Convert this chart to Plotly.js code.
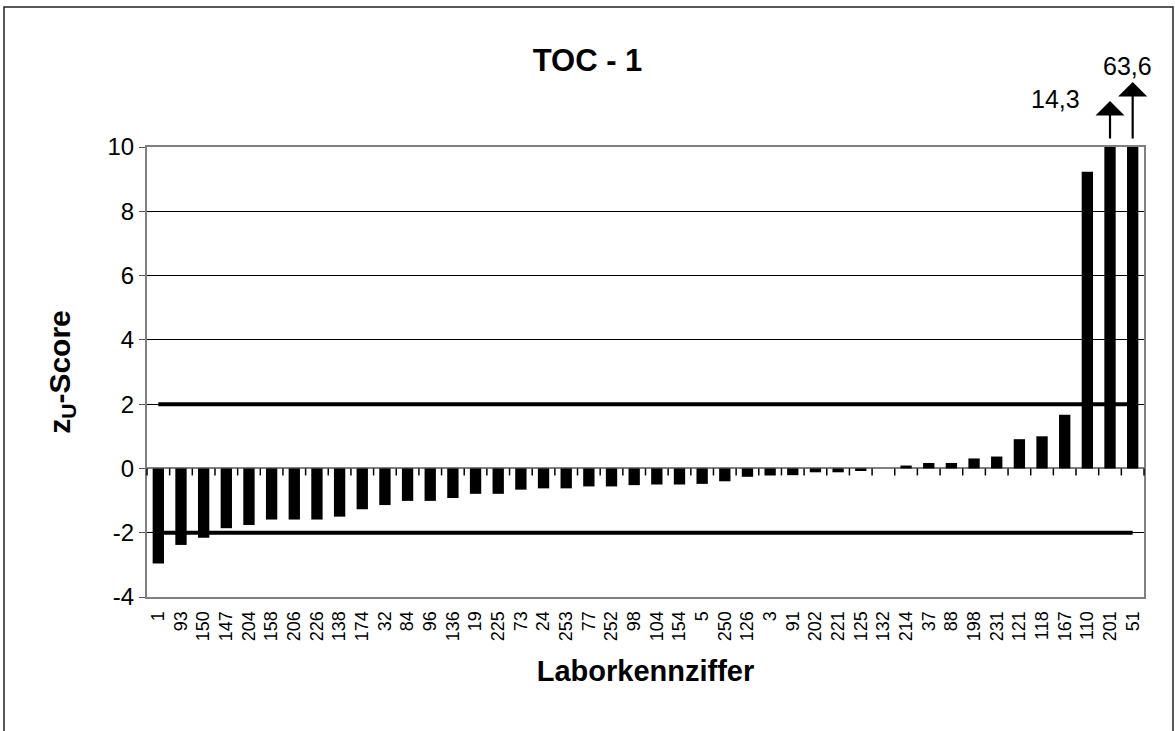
<!DOCTYPE html>
<html>
<head>
<meta charset="utf-8">
<script src="https://cdn.plot.ly/plotly-3.0.1.min.js"></script>
<style>
  html, body { margin: 0; padding: 0; background: #fff; }
  #chart { width: 1175px; height: 731px; }
</style>
</head>
<body>
<div id="chart"></div>
<script>
// Laboratory codes (x categories)
const labCodes = ['1','93','150','147','204','158','206','226','138','174','32','84','96','136','19','225','73','24','253','77','252','98','104','154','5','250','126','3','91','202','221','125','132','214','37','88','198','231','121','118','167','110','201','51'];
// zU-scores (last two are off-scale: 14,3 and 63,6)
const zScores = [-2.96,-2.38,-2.16,-1.86,-1.76,-1.59,-1.59,-1.59,-1.50,-1.27,-1.14,-1.01,-1.01,-0.92,-0.79,-0.79,-0.66,-0.62,-0.62,-0.56,-0.56,-0.52,-0.50,-0.50,-0.48,-0.40,-0.26,-0.22,-0.21,-0.12,-0.12,-0.08,0,0.09,0.17,0.17,0.31,0.37,0.91,1.00,1.67,9.23,14.3,63.6];
// Tolerance limits
const upperLimit = 2;
const lowerLimit = -2;
// Y tick values / labels
const yTickVals = [-4,-2,0,2,4,6,8,10];
const yTickText = ['-4','-2','0','2','4','6','8','10'];
// Off-scale labels
const offScaleLabs = ['201','51'];
const offScaleText = ['14,3','63,6'];

const FONT = 'Liberation Sans, Arial, sans-serif';
const Y_MIN = -4, Y_MAX = 10;

const traces = [
  {
    type: 'bar', x: labCodes, y: zScores,
    marker: { color: '#000000', line: { width: 0 } },
    hoverinfo: 'x+y', showlegend: false
  },
  {
    type: 'scatter', mode: 'lines', x: labCodes, y: labCodes.map(() => upperLimit),
    line: { color: '#000000', width: 4 }, hoverinfo: 'skip', showlegend: false
  },
  {
    type: 'scatter', mode: 'lines', x: labCodes, y: labCodes.map(() => lowerLimit),
    line: { color: '#000000', width: 4 }, hoverinfo: 'skip', showlegend: false
  }
];

// category tick marks hanging from the zero line (axis styling)
const nCat = labCodes.length;
const zeroPaper = (0 - Y_MIN) / (Y_MAX - Y_MIN);
const tickShapes = [];
for (let i = 0; i <= nCat; i++) {
  tickShapes.push({
    type: 'line', xref: 'paper', yref: 'paper',
    x0: i / nCat, x1: i / nCat, y0: zeroPaper, y1: zeroPaper - 7 / 450,
    line: { color: '#000', width: 1.5 }, layer: 'above'
  });
}

function arrowAnn(lab, tipPx) {
  return {
    x: labCodes.indexOf(lab), xref: 'x', y: (597 - tipPx) / 450, yref: 'paper',
    ax: 0, ay: 147 - tipPx,
    text: ' ', showarrow: true, arrowhead: 1, arrowsize: 2.2, arrowwidth: 2.2,
    arrowcolor: '#000', standoff: 0, startstandoff: 0
  };
}

const layout = {
  width: 1175, height: 731,
  margin: { l: 147, r: 31, t: 147, b: 134 },
  paper_bgcolor: '#ffffff', plot_bgcolor: '#ffffff',
  font: { family: FONT, color: '#000' },
  title: {
    text: '<b>TOC - 1</b>', font: { size: 31, family: FONT, color: '#000' },
    x: 0.5, xref: 'container', xanchor: 'center',
    y: 1 - 60 / 731, yref: 'container', yanchor: 'middle'
  },
  bargap: 0.5,
  xaxis: {
    type: 'category', categoryorder: 'array', categoryarray: labCodes,
    range: [-0.5, nCat - 0.5],
    tickangle: -90, tickfont: { size: 18, family: FONT, color: '#000' },
    ticks: 'outside', ticklen: 5, tickcolor: 'rgba(0,0,0,0)',
    showgrid: false, zeroline: false,
    showline: true, linecolor: '#808080', linewidth: 2, mirror: true,
    title: { text: '<b>Laborkennziffer</b>', font: { size: 29, family: FONT, color: '#000' }, standoff: 20 },
    fixedrange: true
  },
  yaxis: {
    range: [Y_MIN, Y_MAX],
    tickvals: yTickVals, ticktext: yTickText,
    tickfont: { size: 24, family: FONT, color: '#000' },
    ticks: 'outside', ticklen: 6, tickcolor: '#555', tickwidth: 1,
    showgrid: true, gridcolor: '#000000', gridwidth: 1,
    zeroline: true, zerolinecolor: '#808080', zerolinewidth: 2,
    showline: true, linecolor: '#808080', linewidth: 2, mirror: true,
    title: { text: '<b>z<sub>U</sub>-Score</b>', font: { size: 30, family: FONT, color: '#000' }, standoff: 28 },
    fixedrange: true
  },
  shapes: [
    {
      type: 'rect', xref: 'paper', yref: 'paper',
      x0: (4 - 147) / 997, x1: (1173 - 147) / 997,
      y0: (597 - 745) / 450, y1: (597 - 7) / 450,
      line: { color: '#222', width: 1.5 }, fillcolor: 'rgba(0,0,0,0)', layer: 'below'
    }
  ].concat(tickShapes),
  annotations: [
    arrowAnn(offScaleLabs[0], 101),
    arrowAnn(offScaleLabs[1], 82),
    {
      x: (1055 - 147) / 997, xref: 'paper', y: (597 - 99) / 450, yref: 'paper',
      text: offScaleText[0], showarrow: false, xanchor: 'center', yanchor: 'middle',
      font: { size: 25, family: FONT, color: '#000' }
    },
    {
      x: (1127 - 147) / 997, xref: 'paper', y: (597 - 66) / 450, yref: 'paper',
      text: offScaleText[1], showarrow: false, xanchor: 'center', yanchor: 'middle',
      font: { size: 25, family: FONT, color: '#000' }
    }
  ],
  showlegend: false
};

Plotly.newPlot('chart', traces, layout, { displayModeBar: false, staticPlot: true });
</script>
</body>
</html>
